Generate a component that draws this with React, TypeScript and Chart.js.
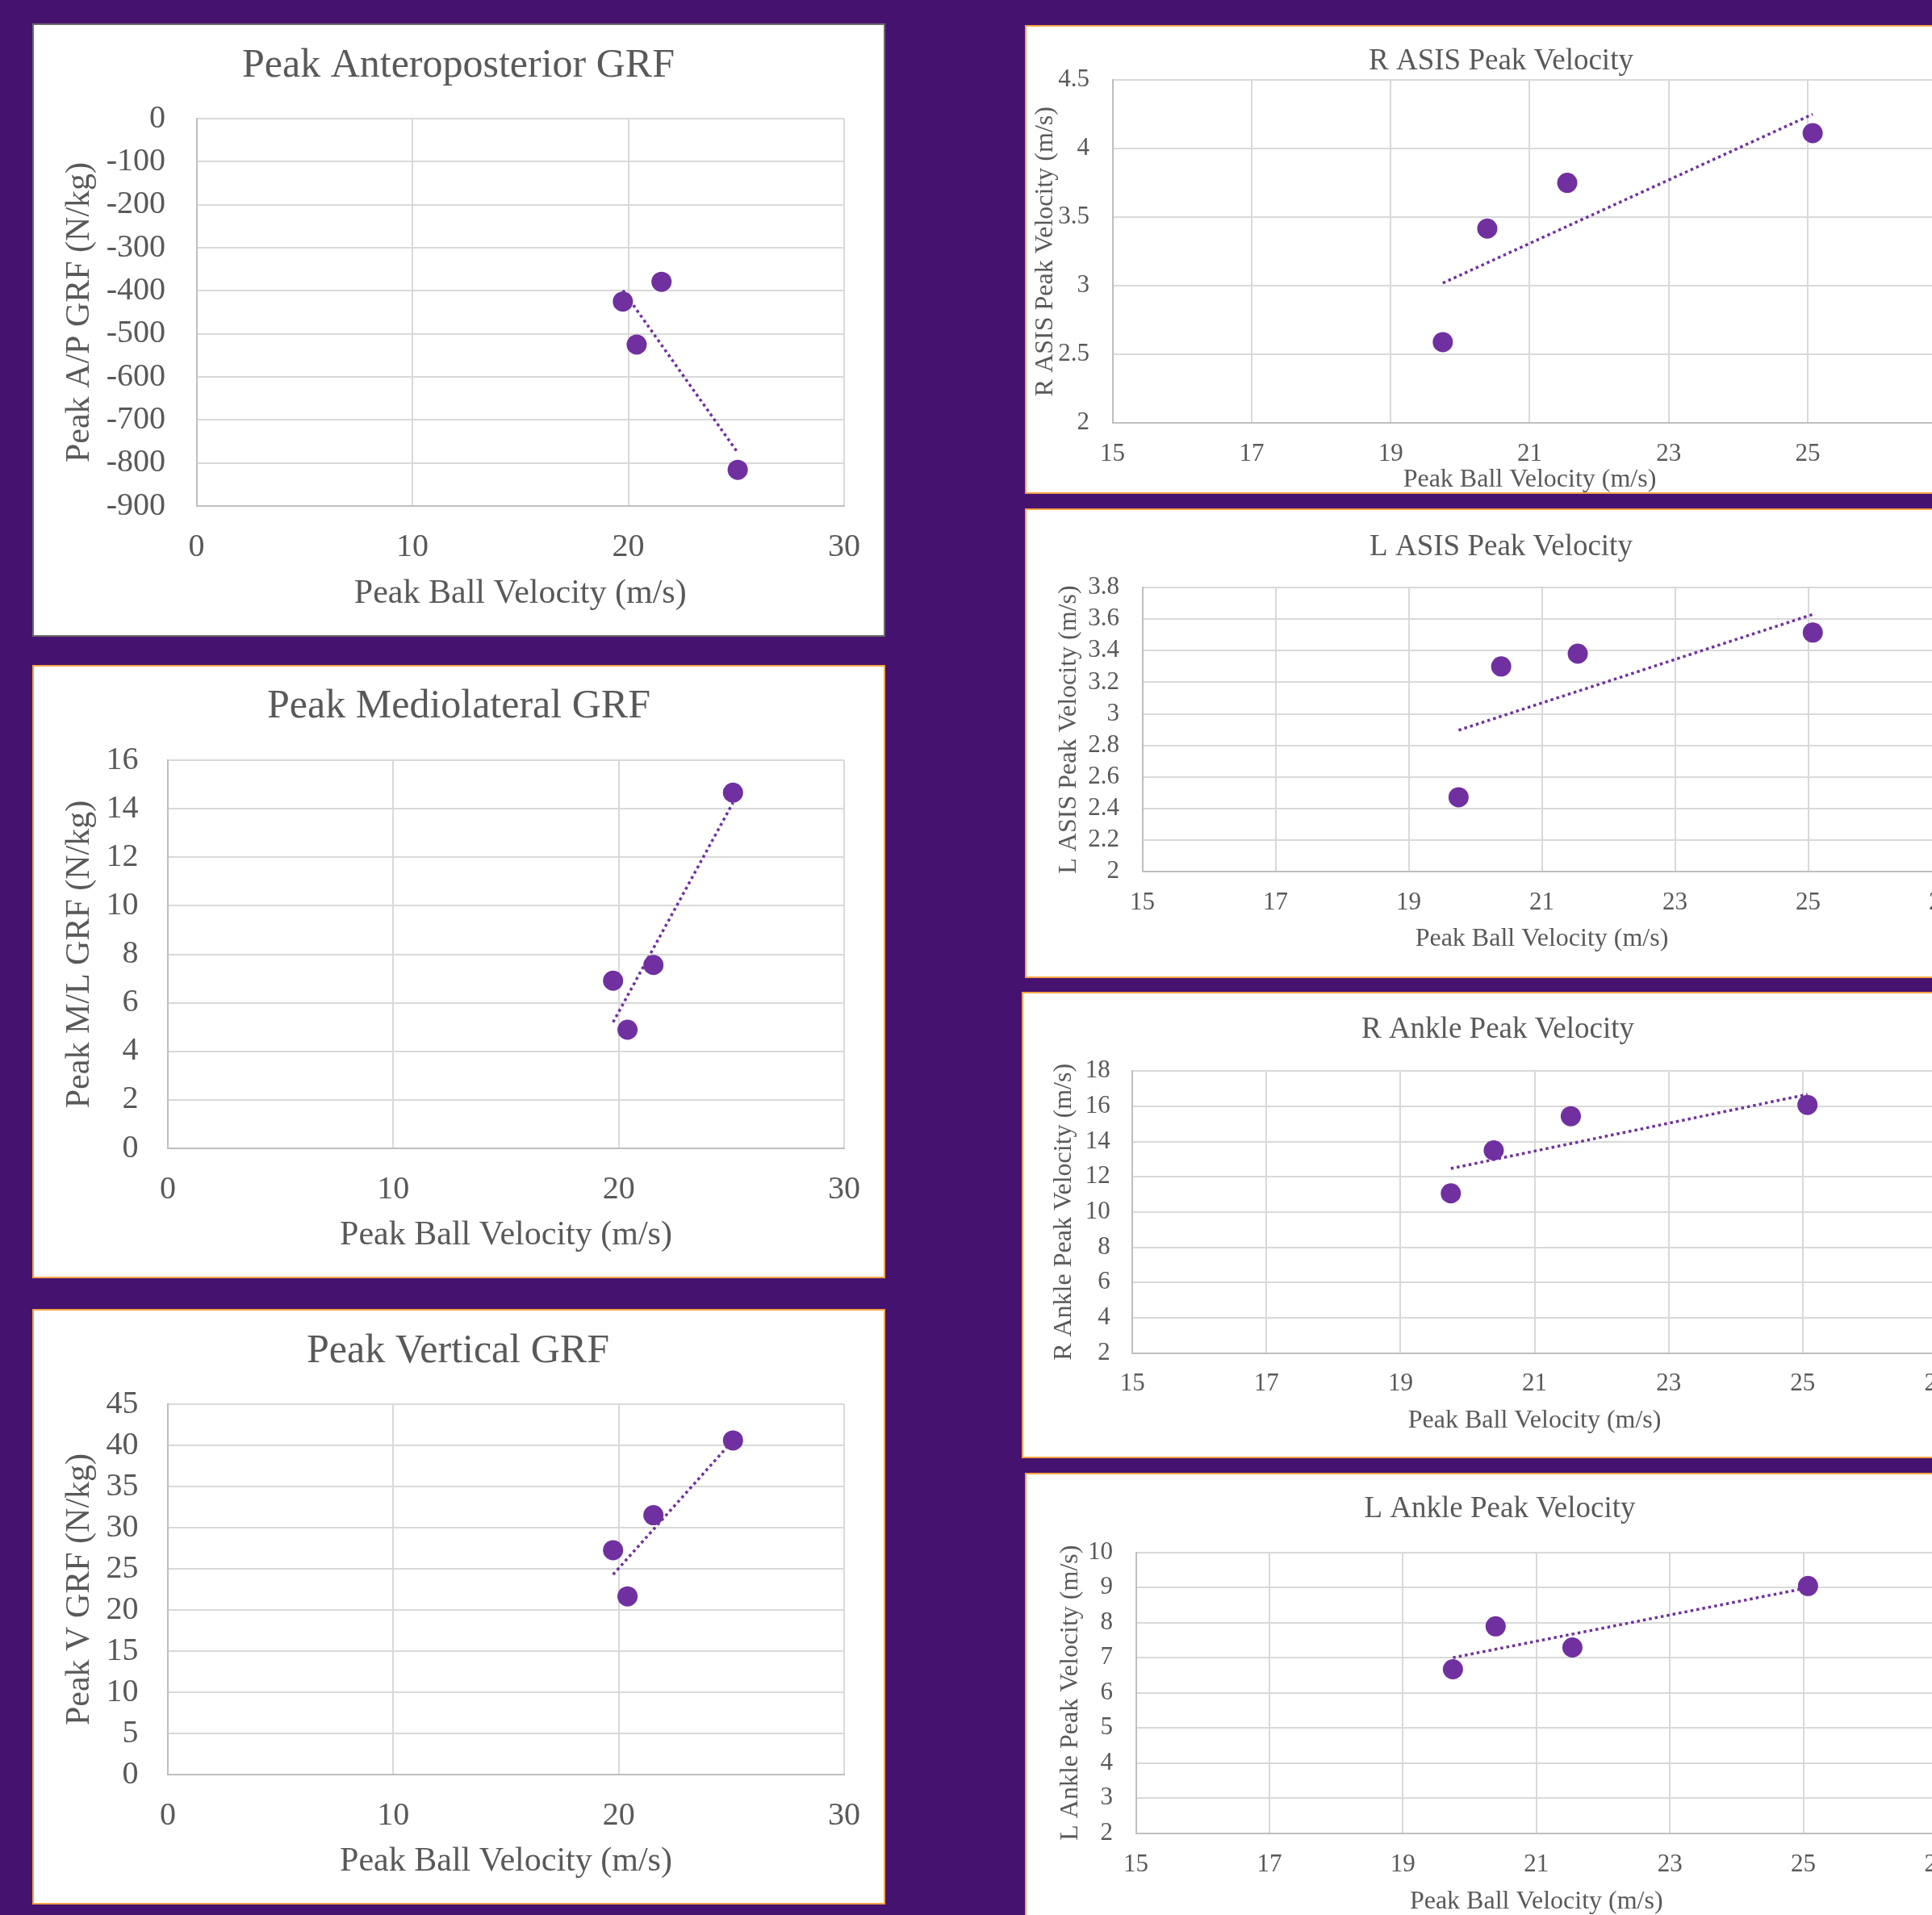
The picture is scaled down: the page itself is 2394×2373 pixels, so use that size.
import React, { useEffect, useRef } from 'react';
import Chart from 'chart.js/auto';

// ---------- data ----------
const ballVelocity = [19.75, 20.39, 21.54, 25.07];

const apGRF = [-425, -525, -379, -816];
const mlGRF = [6.91, 4.89, 7.56, 14.66];
const vGRF = [27.26, 21.65, 31.51, 40.6];
const rAsisVel = [2.59, 3.417, 3.75, 4.112];
const lAsisVel = [2.471, 3.3, 3.381, 3.515];
const rAnkleVel = [11.06, 13.5, 15.44, 16.08];
const lAnkleVel = [6.67, 7.89, 7.29, 9.04];

// trendline end points
const trendX = [19.75, 25.07];
const apTrend = [-399, -776];
const mlTrend = [5.2, 14.25];
const vTrend = [24.3, 40.6];
const rAsisTrend = [3.02, 4.25];
const lAsisTrend = [2.896, 3.63];
const rAnkleTrend = [12.47, 16.68];
const lAnkleTrend = [7.0, 8.99];

// tick labels
const grfXTicks = [0, 10, 20, 30];
const jointXTicks = [15, 17, 19, 21, 23, 25, 27];
const apYTicks = [0, -100, -200, -300, -400, -500, -600, -700, -800, -900];
const mlYTicks = [0, 2, 4, 6, 8, 10, 12, 14, 16];
const vYTicks = [0, 5, 10, 15, 20, 25, 30, 35, 40, 45];
const rAsisYTicks = [2, 2.5, 3, 3.5, 4, 4.5];
const lAsisYTicks = [2, 2.2, 2.4, 2.6, 2.8, 3, 3.2, 3.4, 3.6, 3.8];
const rAnkleYTicks = [2, 4, 6, 8, 10, 12, 14, 16, 18];
const lAnkleYTicks = [2, 3, 4, 5, 6, 7, 8, 9, 10];

const titles = [
  'Peak Anteroposterior GRF',
  'Peak Mediolateral GRF',
  'Peak Vertical GRF',
  'R ASIS Peak Velocity',
  'L ASIS Peak Velocity',
  'R Ankle Peak Velocity',
  'L Ankle Peak Velocity',
];
const yTitles = [
  'Peak A/P GRF (N/kg)',
  'Peak M/L GRF (N/kg)',
  'Peak V GRF (N/kg)',
  'R ASIS Peak Velocity (m/s)',
  'L ASIS Peak Velocity (m/s)',
  'R Ankle Peak Velocity (m/s)',
  'L Ankle Peak Velocity (m/s)',
];
const xTitle = 'Peak Ball Velocity (m/s)';

// ---------- styles / layout ----------
const PURPLE_BG = '#46126F';
const MARKER = '#7030A0';
const TEXT = '#595959';
const GRID = '#D9D9D9';
const AXIS = '#BFBFBF';
const BORDER_GREY = '#6B6B6B';
const BORDER_ORANGE = '#F5A444';
const FONT = "'Liberation Serif', 'Times New Roman', serif";

type Geo = {
  panel: { x: number; y: number; w: number; h: number; border: string };
  titleCx: number;
  plot: { l: number; r: number; t: number; b: number };
  titleCy: number;
  yTitleCx: number;
  yTickRight: number;
  xTickCy: number;
  xTitleCy: number;
  fonts: { title: number; axis: number; tick: number };
};

const bigFonts = { title: 50, axis: 42, tick: 40 };
const smallFonts = { title: 37, axis: 32, tick: 31 };

type Spec = {
  geo: Geo;
  title: string;
  yTitle: string;
  ys: number[];
  trend: number[];
  xTicks: number[];
  yTicks: number[];
};

const specs: Spec[] = [
  {
    title: titles[0], yTitle: yTitles[0], ys: apGRF, trend: apTrend, xTicks: grfXTicks, yTicks: apYTicks,
    geo: {
      panel: { x: 40, y: 29, w: 1057, h: 760, border: BORDER_GREY }, titleCx: 568,
      plot: { l: 243.5, r: 1046, t: 147, b: 627 }, titleCy: 82, yTitleCx: 98.6, yTickRight: 205,
      xTickCy: 678.6, xTitleCy: 736, fonts: bigFonts,
    },
  },
  {
    title: titles[1], yTitle: yTitles[1], ys: mlGRF, trend: mlTrend, xTicks: grfXTicks, yTicks: mlYTicks,
    geo: {
      panel: { x: 40, y: 824, w: 1057, h: 760, border: BORDER_ORANGE }, titleCx: 568.5,
      plot: { l: 208, r: 1046, t: 942, b: 1423 }, titleCy: 876, yTitleCx: 98.6, yTickRight: 171.4,
      xTickCy: 1474, xTitleCy: 1531, fonts: bigFonts,
    },
  },
  {
    title: titles[2], yTitle: yTitles[2], ys: vGRF, trend: vTrend, xTicks: grfXTicks, yTicks: vYTicks,
    geo: {
      panel: { x: 40, y: 1622, w: 1057, h: 738, border: BORDER_ORANGE }, titleCx: 567.5,
      plot: { l: 208, r: 1046, t: 1740, b: 2199 }, titleCy: 1674.5, yTitleCx: 98.6, yTickRight: 171.4,
      xTickCy: 2250, xTitleCy: 2307, fonts: bigFonts,
    },
  },
  {
    title: titles[3], yTitle: yTitles[3], ys: rAsisVel, trend: rAsisTrend, xTicks: jointXTicks, yTicks: rAsisYTicks,
    geo: {
      panel: { x: 1270, y: 31, w: 1240, h: 581, border: BORDER_ORANGE }, titleCx: 1860,
      plot: { l: 1378.6, r: 2417, t: 99, b: 524.3 }, titleCy: 76, yTitleCx: 1296, yTickRight: 1350,
      xTickCy: 563, xTitleCy: 595, fonts: smallFonts,
    },
  },
  {
    title: titles[4], yTitle: yTitles[4], ys: lAsisVel, trend: lAsisTrend, xTicks: jointXTicks, yTicks: lAsisYTicks,
    geo: {
      panel: { x: 1270, y: 630, w: 1240, h: 582, border: BORDER_ORANGE }, titleCx: 1860,
      plot: { l: 1415.5, r: 2405.5, t: 728.1, b: 1080 }, titleCy: 678, yTitleCx: 1325, yTickRight: 1387,
      xTickCy: 1119, xTitleCy: 1164, fonts: smallFonts,
    },
  },
  {
    title: titles[5], yTitle: yTitles[5], ys: rAnkleVel, trend: rAnkleTrend, xTicks: jointXTicks, yTicks: rAnkleYTicks,
    geo: {
      panel: { x: 1266, y: 1229, w: 1240, h: 578, border: BORDER_ORANGE }, titleCx: 1855.8,
      plot: { l: 1403.2, r: 2400, t: 1327.3, b: 1676.5 }, titleCy: 1276, yTitleCx: 1319, yTickRight: 1375.7,
      xTickCy: 1715, xTitleCy: 1760.5, fonts: smallFonts,
    },
  },
  {
    title: titles[6], yTitle: yTitles[6], ys: lAnkleVel, trend: lAnkleTrend, xTicks: jointXTicks, yTicks: lAnkleYTicks,
    geo: {
      panel: { x: 1270, y: 1825, w: 1240, h: 600, border: BORDER_ORANGE }, titleCx: 1858.3,
      plot: { l: 1407.5, r: 2400, t: 1923.5, b: 2271.8 }, titleCy: 1870.6, yTitleCx: 1326.5, yTickRight: 1379,
      xTickCy: 2311, xTitleCy: 2356.7, fonts: smallFonts,
    },
  },
];

function canvasBox(g: Geo) {
  const x = g.panel.x + 2;
  const y = g.panel.y + 2;
  const w = Math.round(2 * (g.titleCx - x));
  const h = g.panel.h - 4;
  return { x, y, w, h };
}

function buildConfig(s: Spec): any {
  const g = s.geo;
  const c = canvasBox(g);
  const pl = g.plot.l - c.x;
  const pr = g.plot.r - c.x;
  const pt = g.plot.t - c.y;
  const pb = g.plot.b - c.y;
  const tCy = g.titleCy - c.y;
  const yTCx = g.yTitleCx - c.x;
  const yTR = g.yTickRight - c.x;
  const xTCy = g.xTickCy - c.y;
  const xTtCy = g.xTitleCy - c.y;
  const F = g.fonts;
  const xMin = s.xTicks[0];
  const xMax = s.xTicks[s.xTicks.length - 1];
  const yMin = Math.min(...s.yTicks);
  const yMax = Math.max(...s.yTicks);
  const tickFont = { family: FONT, size: F.tick, lineHeight: 1.2, weight: 'normal' };
  const axisFont = { family: FONT, size: F.axis, lineHeight: 1, weight: 'normal' };

  return {
    type: 'scatter',
    data: {
      datasets: [
        {
          data: s.ys.map((y, i) => ({ x: ballVelocity[i], y })),
          pointRadius: 12.5,
          pointHoverRadius: 12.5,
          pointBackgroundColor: MARKER,
          backgroundColor: MARKER,
          pointBorderWidth: 0,
          borderWidth: 0,
          showLine: false,
          order: 2,
        },
        {
          data: s.trend.map((y, i) => ({ x: trendX[i], y })),
          showLine: true,
          pointRadius: 0,
          pointHoverRadius: 0,
          borderColor: MARKER,
          borderWidth: 3.5,
          borderDash: [3.5, 4],
          borderCapStyle: 'butt',
          fill: false,
          order: 1,
        },
      ],
    },
    options: {
      animation: false,
      responsive: false,
      devicePixelRatio: 1,
      events: [],
      layout: { padding: 0 },
      plugins: {
        legend: { display: false },
        tooltip: { enabled: false },
        title: {
          display: true,
          text: s.title,
          color: TEXT,
          font: { family: FONT, size: F.title, weight: 'normal', lineHeight: 1.2 },
          padding: { top: tCy - 0.6 * F.title, bottom: pt - tCy - 0.6 * F.title },
        },
      },
      scales: {
        x: {
          type: 'linear',
          position: 'bottom',
          min: xMin,
          max: xMax,
          afterBuildTicks: (sc: any) => {
            sc.ticks = s.xTicks.map((v) => ({ value: v }));
          },
          afterFit: (sc: any) => {
            sc.height = c.h - pb;
          },
          ticks: {
            autoSkip: false,
            maxRotation: 0,
            minRotation: 0,
            padding: xTCy - pb - 0.6 * F.tick,
            color: TEXT,
            font: tickFont,
            callback: (v: any) => String(v),
          },
          grid: { color: GRID, lineWidth: 2, drawTicks: false },
          border: { color: AXIS, width: 2 },
          title: {
            display: true,
            text: xTitle,
            color: TEXT,
            font: axisFont,
            padding: { top: 0, bottom: c.h - xTtCy - 0.5 * F.axis },
          },
        },
        y: {
          type: 'linear',
          position: 'left',
          min: yMin,
          max: yMax,
          afterBuildTicks: (sc: any) => {
            sc.ticks = s.yTicks.map((v) => ({ value: v }));
          },
          afterFit: (sc: any) => {
            sc.width = pl;
          },
          ticks: {
            autoSkip: false,
            padding: pl - yTR,
            color: TEXT,
            font: tickFont,
            callback: (v: any) => String(v),
          },
          grid: { color: GRID, lineWidth: 2, drawTicks: false },
          border: { color: AXIS, width: 2 },
          title: {
            display: true,
            text: s.yTitle,
            color: TEXT,
            font: axisFont,
            padding: { top: yTCx - 0.5 * F.axis, bottom: 0 },
          },
        },
        spacer: {
          type: 'linear',
          axis: 'y',
          position: 'right',
          display: true,
          grid: { display: false, drawOnChartArea: false, drawTicks: false },
          ticks: { display: false },
          border: { display: false },
          title: { display: false },
          afterFit: (sc: any) => {
            sc.width = c.w - pr;
          },
        },
      },
    },
  };
}

function Panel({ spec }: { spec: Spec }) {
  const ref = useRef<HTMLCanvasElement | null>(null);
  const g = spec.geo;
  const c = canvasBox(g);
  useEffect(() => {
    if (!ref.current) return;
    const chart = new Chart(ref.current, buildConfig(spec));
    return () => chart.destroy();
  }, [spec]);
  return (
    <>
      <div
        style={{
          position: 'absolute',
          left: g.panel.x,
          top: g.panel.y,
          width: g.panel.w,
          height: g.panel.h,
          boxSizing: 'border-box',
          border: `2px solid ${g.panel.border}`,
          background: '#FFFFFF',
        }}
      />
      <canvas
        ref={ref}
        width={c.w}
        height={c.h}
        style={{ position: 'absolute', left: c.x, top: c.y, width: c.w, height: c.h, display: 'block' }}
      />
    </>
  );
}

export default function App() {
  return (
    <div
      style={{
        position: 'fixed',
        left: 0,
        top: 0,
        width: 2394,
        height: 2373,
        overflow: 'hidden',
        background: PURPLE_BG,
      }}
    >
      {specs.map((s, i) => (
        <Panel key={i} spec={s} />
      ))}
    </div>
  );
}
